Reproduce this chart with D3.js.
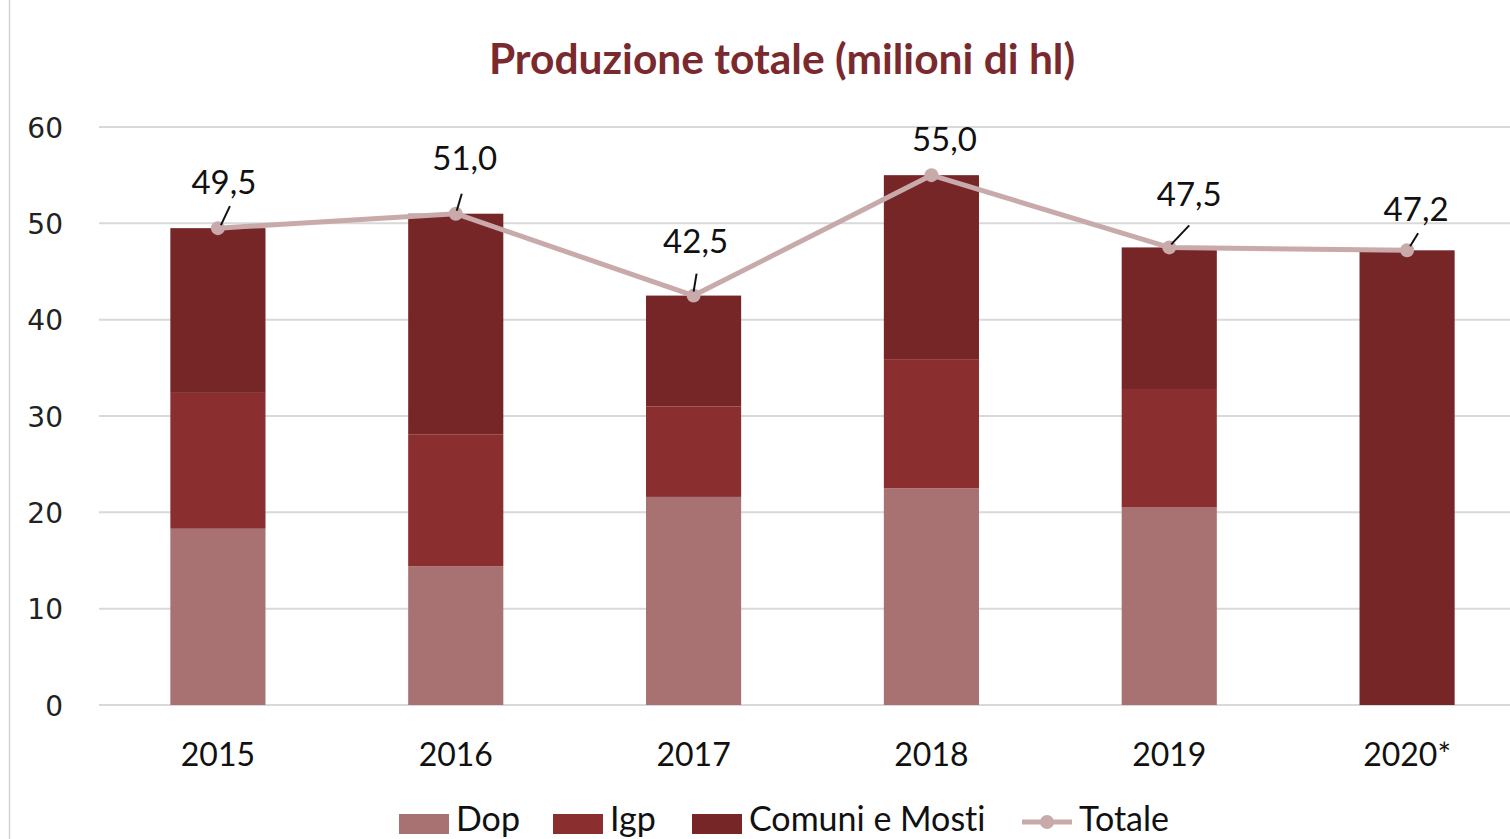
<!DOCTYPE html>
<html><head><meta charset="utf-8">
<script src="https://cdn.jsdelivr.net/npm/d3@7"></script>
<style>
html,body{margin:0;padding:0;background:#fff;overflow:hidden;}
svg{display:block;}
text{font-variant-ligatures:none;font-feature-settings:"liga" 0;}
</style></head>
<body>
<svg id="chart" width="1510" height="839"></svg>
<script>
const years = ["2015","2016","2017","2018","2019","2020*"];
const dop = [18.3, 14.4, 21.6, 22.5, 20.5, 0];
const igp = [14.1, 13.7, 9.4, 13.4, 12.3, 0];
const comuni = [17.1, 22.9, 11.5, 19.1, 14.7, 47.2];
const totale = [49.5, 51.0, 42.5, 55.0, 47.5, 47.2];
const yTicks = [0,10,20,30,40,50,60];
const seriesNames = ["Dop","Igp","Comuni e Mosti"];

const colors = {"Dop":"#A87272","Igp":"#8A2E30","Comuni e Mosti":"#772628"};
const lineColor = "#C9AAAA";

const svg = d3.select("#chart");
const W = 1510, H = 839;
const x = d3.scaleBand().domain(years).range([99, 1526]).paddingInner(0.6).paddingOuter(0.3);
const y = d3.scaleLinear().domain([0,60]).range([705,127]);

// left border
svg.append("line").attr("x1",9.5).attr("x2",9.5).attr("y1",0).attr("y2",H)
  .attr("stroke","#d4d4d4").attr("stroke-width",1.5);

// title
svg.append("text").attr("x",782).attr("y",74).attr("text-anchor","middle")
  .attr("font-family","Lato, sans-serif").attr("font-weight","bold").attr("font-size",42.5)
  .attr("fill","#7A2A2E").text("Produzione totale (milioni di hl)");

// gridlines
svg.append("g").selectAll("line").data(yTicks).join("line")
  .attr("x1",99).attr("x2",1526).attr("y1",d=>y(d)).attr("y2",d=>y(d))
  .attr("stroke","#d9d9d9").attr("stroke-width",2);

// y axis labels
const yAxis = d3.axisLeft(y).tickValues(yTicks).tickSize(0).tickPadding(0).tickFormat(d3.format("d"));
const gy = svg.append("g").attr("transform","translate(63,0)").call(yAxis);
gy.select(".domain").remove();
gy.selectAll("text").attr("font-family","DejaVu Sans, sans-serif").attr("font-size",28).attr("fill","#222").attr("dy","0.36em");

// stacked bars
const table = years.map((yr,i)=>({year:yr,"Dop":dop[i],"Igp":igp[i],"Comuni e Mosti":comuni[i]}));
const stack = d3.stack().keys(seriesNames)(table);
svg.append("g").selectAll("g").data(stack).join("g").attr("fill",d=>colors[d.key])
  .selectAll("rect").data(d=>d).join("rect")
  .attr("x",d=>x(d.data.year)).attr("width",x.bandwidth())
  .attr("y",d=>y(d[1])).attr("height",d=>Math.max(0,y(d[0])-y(d[1])));

// x axis labels
const xAxis = d3.axisBottom(x).tickSize(0).tickPadding(0);
const gx = svg.append("g").attr("transform","translate(0,743)").call(xAxis);
gx.select(".domain").remove();
gx.selectAll("text").attr("font-family","Lato, sans-serif").attr("font-size",32).attr("fill","#111").attr("dy","0.71em");

// total line
const cx = d=>x(d)+x.bandwidth()/2;
const line = d3.line().x((d,i)=>cx(years[i])).y(d=>y(d));
svg.append("path").datum(totale).attr("d",line).attr("fill","none")
  .attr("stroke",lineColor).attr("stroke-width",5).attr("stroke-linejoin","round");
svg.append("g").selectAll("circle").data(totale).join("circle")
  .attr("cx",(d,i)=>cx(years[i])).attr("cy",d=>y(d)).attr("r",7).attr("fill",lineColor);

// data labels with leader lines (offsets are layout)
const labelOff = [[6,-34],[9,-44],[2,-43],[13,-24],[20,-41],[9,-29]];
const leader = [[[12,-22],[3,-3]],[[6,-20],[1,-3]],[[3,-22],[0,-4]],null,[[20,-22],[2,-3]],[[11,-17],[3,-4]]];
const fmt = v=>v.toFixed(1).replace(".",",");
const lab = svg.append("g");
totale.forEach((v,i)=>{
  const px = cx(years[i]), py = y(v);
  lab.append("text").attr("x",px+labelOff[i][0]).attr("y",py+labelOff[i][1])
    .attr("text-anchor","middle").attr("font-family","Lato, sans-serif").attr("font-size",33)
    .attr("fill","#111").text(fmt(v));
  if(leader[i]){
    lab.append("line").attr("x1",px+leader[i][0][0]).attr("y1",py+leader[i][0][1])
      .attr("x2",px+leader[i][1][0]).attr("y2",py+leader[i][1][1])
      .attr("stroke","#111").attr("stroke-width",2);
  }
});

// legend
const leg = svg.append("g");
const legItems = [
  {name:"Dop",sx:399,tx:456},
  {name:"Igp",sx:553,tx:610},
  {name:"Comuni e Mosti",sx:692,tx:749}
];
const legBase = 831;
legItems.forEach(it=>{
  leg.append("rect").attr("x",it.sx).attr("y",814).attr("width",50).attr("height",20).attr("fill",colors[it.name]);
  leg.append("text").attr("x",it.tx).attr("y",legBase).attr("font-family","Lato, sans-serif").attr("font-size",34).attr("fill","#111").text(it.name);
});
leg.append("line").attr("x1",1022).attr("x2",1072).attr("y1",822).attr("y2",822).attr("stroke",lineColor).attr("stroke-width",5);
leg.append("circle").attr("cx",1047).attr("cy",822).attr("r",7).attr("fill",lineColor);
leg.append("text").attr("x",1079).attr("y",legBase).attr("font-family","Lato, sans-serif").attr("font-size",34).attr("fill","#111").text("Totale");
</script>
</body></html>
